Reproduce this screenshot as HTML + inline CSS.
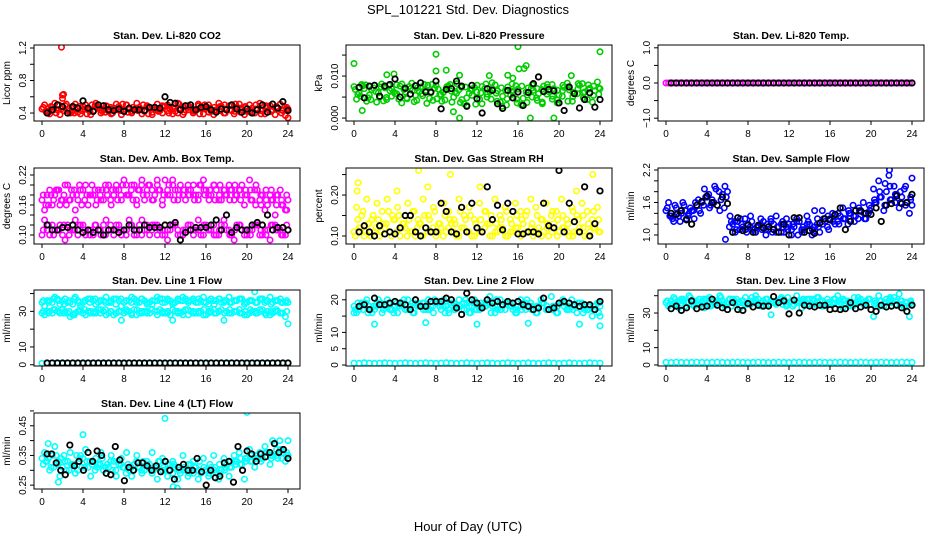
<!DOCTYPE html>
<html><head><meta charset="utf-8"><style>
body{margin:0;background:#fff}
svg{display:block;font-family:"Liberation Sans",sans-serif}
</style></head><body>
<svg id="c" width="936" height="540" viewBox="0 0 936 540">
<text x="468" y="14" text-anchor="middle" font-size="13">SPL_101221  Std. Dev. Diagnostics</text>
<text x="468" y="531" text-anchor="middle" font-size="13">Hour of Day (UTC)</text>
</svg>
<script>
// ---- data ----
const xTicks=[0,4,8,12,16,20,24];
// CO2
const co2A=[0.45,0.42,0.47,0.44,0.62,0.43,0.46,0.41,0.48,0.44,0.43,0.47,0.45,0.42,0.46,0.48,0.43,0.45,0.44,0.47,0.42,0.46,0.44,0.43,0.48,0.45,0.42,0.46,0.44,0.47,0.43,0.45,0.46,0.42,0.44,0.48,0.45,0.43,0.47,0.44,0.42,0.46,0.45,0.43,0.47,0.44,0.46,0.43,0.45];
const co2B=[0.50,0.39,0.52,0.38,0.49,0.40,0.51,0.39,0.50,0.38,0.52,0.40,0.49,0.39,0.51,0.38,0.50,0.40,0.52,0.39,0.49,0.38,0.51,0.40,0.50,0.39,0.52,0.38,0.49,0.40,0.51,0.39,0.50,0.38,0.52,0.40,0.49,0.39,0.51,0.38,0.50,0.40,0.52,0.39,0.49,0.38,0.51,0.37];
const co2C=[0.47,0.41,0.44,0.50,0.43,0.46,0.40,0.48,0.45,0.42,0.49,0.44,0.41,0.47,0.45,0.43,0.50,0.42,0.46,0.44,0.48,0.41,0.45,0.49,0.43,0.46,0.40,0.47,0.44,0.42,0.49,0.45,0.41,0.47,0.43,0.50,0.44,0.42,0.46,0.48,0.41,0.45,0.43,0.49,0.42,0.46,0.44,0.47];
const co2D=[0.42,0.48,0.40,0.45,0.51,0.41,0.47,0.43,0.39,0.50,0.46,0.42,0.48,0.40,0.44,0.51,0.41,0.47,0.43,0.50,0.39,0.46,0.42,0.48,0.40,0.45,0.51,0.41,0.47,0.43,0.39,0.50,0.46,0.42,0.48,0.40,0.44,0.51,0.41,0.47,0.43,0.50,0.39,0.46,0.42,0.48,0.40,0.45];
const co2OutT=[1.9,2.1,24,2.0];
const co2OutV=[1.21,0.63,0.34,0.58];
const co2K=[0.40,0.44,0.50,0.48,0.40,0.48,0.46,0.55,0.46,0.42,0.50,0.49,0.44,0.43,0.45,0.42,0.46,0.44,0.44,0.43,0.47,0.47,0.46,0.60,0.53,0.52,0.44,0.49,0.50,0.44,0.47,0.48,0.44,0.41,0.45,0.44,0.50,0.45,0.41,0.45,0.40,0.44,0.50,0.41,0.51,0.46,0.54,0.43];
// Pressure
const prA=[0.0075,0.0060,0.0070,0.0055,0.0078,0.0050,0.0072,0.0065,0.0058,0.0076,0.0062,0.0070,0.0054,0.0074,0.0066,0.0060,0.0078,0.0056,0.0071,0.0064,0.0059,0.0073,0.0048,0.0068,0.0062,0.0075,0.0057,0.0070,0.0065,0.0052,0.0074,0.0061,0.0069,0.0047,0.0072,0.0066,0.0058,0.0076,0.0063,0.0070,0.0055,0.0073,0.0067,0.0060,0.0078,0.0062,0.0071,0.0065,0.0070];
const prB=[0.0045,0.0080,0.0040,0.0068,0.0038,0.0081,0.0044,0.0052,0.0079,0.0036,0.0048,0.0083,0.0042,0.0058,0.0035,0.0080,0.0046,0.0040,0.0075,0.0038,0.0082,0.0044,0.0030,0.0054,0.0078,0.0034,0.0050,0.0084,0.0040,0.0028,0.0046,0.0081,0.0036,0.0030,0.0055,0.0079,0.0042,0.0038,0.0080,0.0045,0.0036,0.0052,0.0083,0.0040,0.0058,0.0082,0.0044,0.0038,0.0086];
const prC=[0.0068,0.0052,0.0079,0.0044,0.0063,0.0074,0.0049,0.0070,0.0058,0.0081,0.0046,0.0066,0.0072,0.0053,0.0078,0.0042,0.0069,0.0061,0.0076,0.0050,0.0067,0.0034,0.0059,0.0073,0.0045,0.0070,0.0063,0.0079,0.0038,0.0066,0.0055,0.0077,0.0032,0.0062,0.0071,0.0048,0.0068,0.0057,0.0080,0.0043,0.0065,0.0074,0.0051,0.0070,0.0060,0.0079,0.0054,0.0072];
const prD=[0.0056,0.0077,0.0048,0.0072,0.0060,0.0041,0.0078,0.0062,0.0045,0.0068,0.0075,0.0039,0.0064,0.0080,0.0047,0.0071,0.0056,0.0043,0.0080,0.0063,0.0037,0.0074,0.0069,0.0033,0.0060,0.0081,0.0045,0.0059,0.0072,0.0031,0.0064,0.0045,0.0076,0.0037,0.0050,0.0070,0.0034,0.0073,0.0052,0.0066,0.0078,0.0040,0.0061,0.0082,0.0048,0.0069,0.0076,0.0057];
const prOutT=[0,0.8,3.2,3.9,8,8,9,9.7,10.3,10.3,13.2,15,15.5,16,16.1,16.6,16.8,17.2,19.5,21.2,24];
const prOutV=[0.013,0.0018,0.0103,0.0105,0.0152,0.0112,0.0114,0.0015,0.0102,0,0.0101,0.0102,0.0095,0.0170,0.0117,0.0118,0.0125,0,0,0.0101,0.0158];
const prK=[0.0073,0.0048,0.0076,0.0078,0.0052,0.0076,0.0080,0.0093,0.0050,0.0071,0.0057,0.0077,0.0084,0.0062,0.0062,0.0088,0.0022,0.0068,0.0070,0.0088,0.0076,0.0028,0.0078,0.0046,0.0012,0.0070,0.0066,0.0034,0.0023,0.0066,0.0048,0.0062,0.0030,0.0061,0.0082,0.0098,0.0063,0.0068,0.0065,0.0036,0.0018,0.0074,0.0058,0.0024,0.0044,0.0060,0.0026,0.0044];
// Li-820 temp
const tpA=[0,0,0,0,0,0,0,0,0,0,0,0,0,0,0,0,0,0,0,0,0,0,0,0,0,0,0,0,0,0,0,0,0,0,0,0,0,0,0,0,0,0,0,0,0,0,0,0,0];
const tpB=[0,0,0,0,0,0,0,0,0,0,0,0,0,0,0,0,0,0,0,0,0,0,0,0,0,0,0,0,0,0,0,0,0,0,0,0,0,0,0,0,0,0,0,0,0,0,0,0];
const tpK=[0,0,0,0,0,0,0,0,0,0,0,0,0,0,0,0,0,0,0,0,0,0,0,0,0,0,0,0,0,0,0,0,0,0,0,0,0,0,0,0,0,0,0,0,0,0,0,0];
// Amb box temp
const abUA=[0.17,0.18,0.16,0.19,0.17,0.20,0.18,0.17,0.19,0.16,0.18,0.19,0.17,0.20,0.18,0.19,0.21,0.18,0.20,0.19,0.17,0.20,0.18,0.19,0.21,0.18,0.19,0.20,0.17,0.19,0.18,0.20,0.19,0.18,0.19,0.17,0.18,0.19,0.18,0.20,0.18,0.17,0.19,0.18,0.16,0.17,0.18,0.16,0.17];
const abUB=[0.15,0.19,0.18,0.16,0.20,0.17,0.15,0.19,0.20,0.18,0.16,0.17,0.19,0.16,0.20,0.17,0.18,0.20,0.16,0.21,0.19,0.17,0.20,0.16,0.19,0.21,0.17,0.18,0.20,0.18,0.17,0.21,0.18,0.20,0.17,0.19,0.20,0.17,0.19,0.16,0.21,0.19,0.17,0.15,0.18,0.14,0.19,0.15];
const abUC=[0.18,0.16,0.17,0.19,0.18,0.17,0.19,0.20,0.17,0.18,0.19,0.18,0.20,0.17,0.19,0.18,0.20,0.19,0.17,0.20,0.18,0.19,0.21,0.17,0.18,0.20,0.19,0.18,0.19,0.20,0.18,0.19,0.17,0.20,0.18,0.19,0.17,0.20,0.19,0.18,0.19,0.16,0.18,0.19,0.17,0.18,0.16,0.18];
const abUD=[0.16,0.18,0.19,0.17,0.16,0.19,0.18,0.16,0.18,0.20,0.17,0.19,0.18,0.19,0.17,0.20,0.18,0.17,0.19,0.18,0.20,0.17,0.19,0.18,0.20,0.17,0.18,0.19,0.18,0.17,0.20,0.18,0.19,0.17,0.20,0.18,0.19,0.18,0.17,0.19,0.17,0.20,0.16,0.17,0.19,0.16,0.17,0.15];
const abLA=[0.10,0.11,0.12,0.11,0.10,0.12,0.11,0.10,0.12,0.11,0.10,0.11,0.12,0.11,0.10,0.12,0.11,0.13,0.10,0.12,0.11,0.10,0.12,0.11,0.10,0.11,0.12,0.10,0.11,0.12,0.11,0.10,0.12,0.11,0.10,0.12,0.11,0.10,0.12,0.11,0.10,0.11,0.12,0.10,0.11,0.12,0.11,0.10,0.11];
const abLB=[0.13,0.10,0.11,0.12,0.09,0.11,0.13,0.12,0.10,0.11,0.12,0.10,0.13,0.11,0.12,0.10,0.11,0.12,0.10,0.13,0.11,0.12,0.10,0.11,0.09,0.12,0.11,0.10,0.12,0.11,0.13,0.10,0.11,0.12,0.10,0.13,0.11,0.09,0.12,0.10,0.11,0.12,0.10,0.11,0.09,0.12,0.11,0.10];
const abLC=[0.11,0.12,0.10,0.11,0.12,0.10,0.11,0.12,0.11,0.10,0.12,0.11,0.10,0.12,0.11,0.11,0.10,0.12,0.11,0.10,0.12,0.11,0.12,0.10,0.11,0.12,0.10,0.11,0.12,0.10,0.11,0.12,0.11,0.10,0.11,0.12,0.10,0.11,0.12,0.11,0.10,0.12,0.11,0.10,0.12,0.11,0.10,0.12];
const abK=[0.12,0.11,0.11,0.115,0.115,0.12,0.11,0.105,0.11,0.105,0.11,0.10,0.11,0.11,0.105,0.11,0.12,0.11,0.11,0.12,0.115,0.115,0.115,0.12,0.12,0.125,0.09,0.105,0.11,0.115,0.115,0.115,0.12,0.13,0.11,0.14,0.105,0.115,0.11,0.11,0.12,0.125,0.12,0.14,0.11,0.115,0.115,0.11];
// RH
const rhA=[0.11,0.12,0.10,0.13,0.11,0.10,0.12,0.11,0.14,0.10,0.12,0.11,0.10,0.13,0.12,0.11,0.10,0.12,0.11,0.13,0.10,0.12,0.11,0.10,0.12,0.11,0.13,0.10,0.11,0.12,0.10,0.11,0.12,0.13,0.11,0.10,0.12,0.11,0.10,0.13,0.11,0.12,0.10,0.11,0.12,0.10,0.11,0.12,0.11];
const rhB=[0.17,0.15,0.19,0.14,0.18,0.16,0.19,0.15,0.17,0.13,0.18,0.16,0.14,0.19,0.15,0.17,0.13,0.18,0.16,0.14,0.19,0.15,0.17,0.14,0.18,0.16,0.13,0.19,0.15,0.17,0.14,0.18,0.16,0.15,0.19,0.17,0.14,0.18,0.15,0.16,0.19,0.14,0.17,0.15,0.18,0.16,0.14,0.17];
const rhC=[0.10,0.12,0.11,0.10,0.12,0.11,0.13,0.10,0.11,0.12,0.10,0.11,0.12,0.10,0.11,0.12,0.11,0.10,0.12,0.11,0.10,0.12,0.11,0.10,0.11,0.12,0.10,0.11,0.12,0.10,0.11,0.12,0.10,0.11,0.12,0.11,0.10,0.12,0.11,0.10,0.12,0.11,0.10,0.11,0.12,0.10,0.12,0.11];
const rhD=[0.14,0.16,0.13,0.15,0.14,0.13,0.16,0.14,0.15,0.13,0.14,0.16,0.13,0.15,0.14,0.16,0.13,0.15,0.14,0.13,0.16,0.14,0.15,0.13,0.14,0.16,0.15,0.13,0.14,0.16,0.13,0.15,0.14,0.16,0.13,0.15,0.14,0.13,0.16,0.14,0.15,0.13,0.16,0.14,0.15,0.13,0.16,0.14];
const rhOutT=[0.4,0.3,6.3,9.4,7.2,12.3,23.3,21.7,1.5,4.2];
const rhOutV=[0.23,0.21,0.26,0.25,0.22,0.22,0.25,0.21,0.11,0.21];
const rhK=[0.11,0.125,0.11,0.10,0.125,0.105,0.11,0.105,0.12,0.15,0.15,0.11,0.10,0.12,0.11,0.11,0.18,0.16,0.11,0.105,0.17,0.11,0.18,0.12,0.11,0.22,0.14,0.175,0.115,0.18,0.16,0.105,0.105,0.11,0.11,0.105,0.18,0.125,0.12,0.26,0.11,0.18,0.135,0.11,0.22,0.10,0.13,0.21];
// Sample flow
const sfA=[1.45,1.35,1.50,1.40,1.30,1.45,1.55,1.60,1.70,1.65,1.55,1.75,1.80,1.20,1.25,1.15,1.20,1.10,1.15,1.25,1.10,1.20,1.15,1.05,1.20,1.15,1.25,1.10,1.20,1.15,1.05,1.25,1.30,1.20,1.35,1.30,1.40,1.35,1.45,1.30,1.50,1.60,1.70,1.80,1.65,1.75,1.70,1.60,1.55];
const sfB=[1.60,1.25,1.35,1.55,1.40,1.30,1.45,1.85,1.50,1.90,1.45,1.90,1.35,1.05,1.30,1.10,1.35,1.05,1.30,1.00,1.25,1.35,1.05,1.30,1.00,1.30,1.10,1.35,1.00,1.20,1.45,1.15,1.40,1.25,1.50,1.20,1.55,1.30,1.60,1.40,1.85,2.00,1.45,2.10,1.90,1.50,1.85,1.40];
const sfC=[1.50,1.30,1.40,1.60,1.35,1.45,1.65,1.55,1.75,1.60,1.80,1.50,1.15,1.25,1.10,1.30,1.15,1.05,1.20,1.10,1.30,1.05,1.20,1.15,1.10,1.25,1.05,1.20,1.10,1.30,1.20,1.35,1.25,1.40,1.30,1.45,1.35,1.50,1.40,1.55,1.65,1.80,1.55,1.90,1.60,1.80,1.55,1.70];
const sfD=[1.35,1.55,1.25,1.45,1.50,1.60,1.40,1.70,1.55,1.85,1.65,1.70,1.25,1.10,1.20,1.05,1.25,1.15,1.10,1.20,1.05,1.15,1.25,1.10,1.20,1.00,1.15,1.25,1.05,1.15,1.30,1.10,1.35,1.20,1.30,1.40,1.25,1.45,1.30,1.45,1.60,1.70,1.95,1.65,1.75,1.60,1.90,1.65];
const sfOutT=[5.8,21.8,24,14.5];
const sfOutV=[0.92,2.2,2.05,1.45];
const sfK=[1.40,1.38,1.45,1.28,1.20,1.55,1.62,1.72,1.60,1.55,1.70,1.58,1.05,1.32,1.08,1.18,1.05,1.18,1.13,1.15,1.10,1.05,1.20,1.00,1.32,1.32,1.05,1.08,1.03,1.22,1.30,1.28,1.38,1.50,1.10,1.25,1.45,1.44,1.40,1.38,1.50,1.25,1.55,1.58,1.72,1.58,1.60,1.75];
// Line 1
const l1UA=[35,36,35,37,36,35,34,36,35,37,36,35,36,35,37,36,35,36,37,35,36,35,36,37,35,36,35,36,37,36,35,36,35,37,36,35,36,35,36,37,35,36,35,37,36,35,36,35,35];
const l1UB=[33,36,38,34,37,35,38,33,36,37,34,36,38,35,37,33,36,38,35,37,34,36,38,35,37,34,36,38,36,37,35,38,34,36,37,35,38,36,37,34,36,41,37,35,38,36,37,35];
const l1UC=[36,35,37,36,34,36,37,35,36,35,37,36,35,36,34,37,36,35,36,37,35,34,36,37,36,35,37,36,35,36,37,35,36,34,37,36,35,36,37,35,36,35,37,36,34,36,35,36];
const l1LA=[29,30,29,30,31,29,28,30,29,30,29,31,30,29,28,30,29,30,31,29,30,29,30,31,29,28,30,29,31,30,29,30,28,30,29,31,30,29,30,29,28,30,29,31,30,29,30,29,23];
const l1LB=[28,30,31,29,30,27,29,31,28,30,29,31,28,30,29,25,30,28,31,29,30,31,28,30,29,25,30,28,31,29,30,28,29,31,30,25,29,30,31,28,29,30,31,29,28,30,29,27];
const l1LC=[30,29,31,30,29,30,28,30,31,29,30,29,31,30,29,30,31,29,28,30,29,31,30,29,30,31,29,30,28,30,29,31,30,29,30,29,31,30,29,30,31,29,30,28,30,31,29,30];
const l1Z=[0.8,0.7,0.9,0.8,0.7,0.8,0.9,0.8,0.7,0.8,0.9,0.8,0.7,0.8,0.9,0.8,0.7,0.8,0.9,0.8,0.7,0.8,0.9,0.8,0.7,0.8,0.9,0.8,0.7,0.8,0.9,0.8,0.7,0.8,0.9,0.8,0.7,0.8,0.9,0.8,0.7,0.8,0.9,0.8,0.7,0.8,0.9,0.8,0.8];
const l1K=[1,1,1,1,1,1,1,1,1,1,1,1,1,1,1,1,1,1,1,1,1,1,1,1,1,1,1,1,1,1,1,1,1,1,1,1,1,1,1,1,1,1,1,1,1,1,1,1];
// Line 2
const l2A=[18,17,19,18,17,19,18,17,18,19,17,18,19,18,17,18,19,17,18,19,18,17,19,18,17,18,19,18,17,18,19,17,18,19,18,17,18,19,17,18,19,18,17,18,19,17,18,17,18];
const l2B=[16,19,20,16,19,16,20,17,16,19,20,16,19,17,20,16,19,20,16,17,20,19,16,20,17,19,21,16,20,17,19,16,20,17,19,16,20,17,21,16,19,17,20,16,19,17,15,19];
const l2C=[17,18,19,17,18,19,18,17,19,18,17,19,18,19,17,18,19,18,17,19,18,17,18,19,17,18,19,18,17,19,18,17,18,19,17,18,19,18,17,18,19,17,18,19,18,17,18,19];
const l2D=[19,17,16,18,20,17,19,16,18,20,17,16,18,19,17,20,18,16,19,17,18,20,16,17,19,18,16,20,17,19,18,16,17,20,18,16,19,17,18,16,20,18,17,19,16,18,17,16];
const l2OutT=[2,7,12,17,22,24,0,24];
const l2OutV=[12.5,13,12.5,12.8,12.5,12,16,15];
const l2Z=[0.6,0.5,0.7,0.6,0.5,0.6,0.7,0.6,0.5,0.6,0.7,0.6,0.5,0.6,0.7,0.6,0.5,0.6,0.7,0.6,0.5,0.6,0.7,0.6,0.5,0.6,0.7,0.6,0.5,0.6,0.7,0.6,0.5,0.6,0.7,0.6,0.5,0.6,0.7,0.6,0.5,0.6,0.7,0.6,0.5,0.6,0.7,0.6,0.6];
const l2K=[18,18.5,17,20.5,18.5,18.5,19,19.5,19,18.5,17,20,18,18,19.5,19.5,19.5,20.5,20,17.5,15.5,22,20,19,17.5,20,19,19.5,18.5,19.5,19,19.5,18.5,18,17,17.5,20.5,17,17.5,19,19.5,19,18.5,18,18.5,18.5,17,19.5];
// Line 3
const l3A=[36,37,35,38,36,35,37,36,38,35,36,37,35,38,36,37,35,36,38,37,35,36,37,38,36,35,37,36,38,35,37,36,35,38,36,37,35,36,38,37,35,36,37,38,36,35,37,36,35];
const l3B=[34,39,33,37,40,34,38,33,39,35,40,34,38,36,33,39,35,40,34,38,29,35,39,34,37,40,33,38,35,39,34,38,36,40,33,37,34,39,35,38,28,40,34,37,39,41,33,28];
const l3C=[37,35,36,38,36,37,35,38,36,37,36,35,38,37,36,35,37,38,36,35,37,36,38,35,37,36,37,35,38,36,37,36,35,37,38,36,35,37,36,38,35,37,36,38,37,35,36,37];
const l3D=[35,38,37,34,39,36,35,38,34,37,39,36,34,38,37,35,39,36,34,38,36,37,35,39,34,36,38,35,37,39,34,36,38,35,37,34,39,36,35,38,37,34,36,39,35,37,34,36];
const l3Z=[1.5,1.4,1.6,1.5,1.4,1.5,1.6,1.5,1.4,1.5,1.6,1.5,1.4,1.5,1.6,1.5,1.4,1.5,1.6,1.5,1.4,1.5,1.6,1.5,1.4,1.5,1.6,1.5,1.4,1.5,1.6,1.5,1.4,1.5,1.6,1.5,1.4,1.5,1.6,1.5,1.4,1.5,1.6,1.5,1.4,1.5,1.6,1.5,1.5];
const l3K=[32.5,34,31.5,33,37,32.5,33.5,34,38,34.5,33,32,36,32,31.5,35.5,33.5,34.5,34,34,39.5,36,37,29.5,37.5,30,34.5,34,33.5,34.5,34.5,32,32.5,32,32.5,36,32.5,33.5,34.5,32,31,34.5,33.5,34,34.5,33,31,34.5];
// Line 4 (LT)
const l4A=[0.34,0.33,0.35,0.32,0.31,0.33,0.32,0.30,0.34,0.31,0.33,0.32,0.30,0.31,0.33,0.32,0.31,0.30,0.32,0.31,0.30,0.32,0.31,0.33,0.30,0.32,0.31,0.29,0.30,0.32,0.31,0.29,0.30,0.31,0.29,0.30,0.32,0.31,0.33,0.32,0.34,0.33,0.35,0.34,0.36,0.35,0.34,0.36,0.35];
const l4B=[0.36,0.30,0.38,0.28,0.33,0.36,0.29,0.35,0.37,0.28,0.34,0.36,0.29,0.35,0.28,0.34,0.36,0.28,0.35,0.29,0.33,0.36,0.27,0.34,0.28,0.33,0.27,0.35,0.28,0.33,0.27,0.34,0.28,0.35,0.27,0.34,0.28,0.35,0.36,0.27,0.37,0.31,0.36,0.38,0.32,0.39,0.37,0.33];
const l4C=[0.32,0.34,0.31,0.33,0.35,0.30,0.32,0.34,0.31,0.33,0.30,0.32,0.31,0.33,0.30,0.32,0.29,0.31,0.33,0.30,0.32,0.29,0.31,0.30,0.32,0.29,0.31,0.30,0.32,0.29,0.30,0.31,0.29,0.30,0.32,0.30,0.31,0.33,0.32,0.34,0.33,0.35,0.34,0.36,0.34,0.35,0.37,0.35];
const l4D=[0.33,0.31,0.35,0.34,0.30,0.32,0.35,0.31,0.33,0.32,0.31,0.34,0.32,0.30,0.33,0.31,0.32,0.30,0.31,0.33,0.31,0.30,0.33,0.31,0.30,0.32,0.30,0.31,0.29,0.31,0.33,0.30,0.32,0.31,0.29,0.31,0.33,0.32,0.34,0.33,0.35,0.34,0.33,0.36,0.35,0.37,0.34,0.36];
const l4OutT=[12,20,4,22.5,23.2,24,1.6,13.2,12.8,0.6];
const l4OutV=[0.475,0.495,0.42,0.40,0.40,0.40,0.26,0.24,0.245,0.39];
const l4K=[0.355,0.355,0.325,0.30,0.285,0.385,0.315,0.33,0.30,0.36,0.33,0.365,0.35,0.29,0.285,0.38,0.335,0.265,0.31,0.30,0.325,0.325,0.315,0.30,0.315,0.295,0.33,0.30,0.27,0.31,0.32,0.30,0.30,0.34,0.295,0.25,0.30,0.275,0.28,0.325,0.33,0.26,0.38,0.30,0.365,0.355,0.33,0.355,0.345,0.36,0.39,0.36,0.37,0.34];
// ticks
const co2Ticks=[0.4,0.6,0.8,1.0,1.2], co2Labels=["0.4","","0.8","","1.2"];
const prTicks=[0,0.005,0.010,0.015], prLabels=["0.000","","0.010",""];
const tpTicks=[-1,-0.5,0,0.5,1], tpLabels=["\u22121.0","","0.0","","1.0"];
const abTicks=[0.10,0.12,0.14,0.16,0.18,0.20,0.22], abLabels=["0.10","","","0.16","","","0.22"];
const rhTicks=[0.10,0.15,0.20,0.25], rhLabels=["0.10","","0.20",""];
const sfTicks=[1.0,1.2,1.4,1.6,1.8,2.0,2.2], sfLabels=["1.0","","","1.6","","","2.2"];
const l1Ticks=[0,10,20,30,40], l1Labels=["0","10","","30",""];
const l2Ticks=[0,5,10,15,20], l2Labels=["0","5","10","","20"];
const l3Ticks=[0,10,20,30,40], l3Labels=["0","10","","30",""];
const l4Ticks=[0.25,0.30,0.35,0.40,0.45,0.50], l4Labels=["0.25","","0.35","","0.45",""];

// ---- drawing ----
const NS="http://www.w3.org/2000/svg";
const svg=document.getElementById('c');
const W=266,H=76;
function mk(tag,attrs,parent){const e=document.createElementNS(NS,tag);for(const k in attrs)e.setAttribute(k,attrs[k]);parent.appendChild(e);return e;}
function seq(n,t0,t1){const r=[];for(let i=0;i<n;i++)r.push(n===1?t0:t0+i*(t1-t0)/(n-1));return r;}
function panel(o){
  const g=mk('g',{},svg);
  
  
  const L=o.x,T=o.y;
  const sx=t=>L+8+t*(246/24);
  const sy=v=>T+H-(v-o.ylo)/(o.yhi-o.ylo)*H;
  const clip='cl'+o.name;
  const cp=mk('clipPath',{id:clip},g);mk('rect',{x:L,y:T,width:W,height:H},cp);
  const pts=mk('g',{'clip-path':'url(#'+clip+')'},g);
  
  
  o.series.forEach(s=>{
    const ts=s.t||seq(s.v.length,s.t0,s.t1);
    const black=s.c==='#000';
    s.v.forEach((v,i)=>{
      const c=mk('circle',{cx:sx(ts[i]),cy:sy(v),r:2.7,fill:'none',stroke:s.c,'stroke-width':black?1.8:1.6},pts);
      
      
    });
  });
  const box=mk('rect',{x:L,y:T,width:W,height:H,fill:'none',stroke:'#000','stroke-width':1},g);
  
  
  const xa=mk('g',{},g);
  
  
  xTicks.forEach(t=>{
    mk('line',{x1:sx(t),x2:sx(t),y1:T+H,y2:T+H+4,stroke:'#000'},xa);
    const tx=mk('text',{x:sx(t),y:T+H+16,'text-anchor':'middle','font-size':10},xa);tx.textContent=t;
  });
  const ya=mk('g',{},g);
  
  
  o.ticks.forEach((v,i)=>{
    mk('line',{x1:L-4,x2:L,y1:sy(v),y2:sy(v),stroke:'#000'},ya);
    if(o.labels[i]){const tx=mk('text',{x:0,y:0,'text-anchor':'middle','font-size':10,transform:`translate(${L-8},${sy(v)}) rotate(-90)`},ya);tx.textContent=o.labels[i];}
  });
  const yt=mk('text',{x:0,y:0,'text-anchor':'middle','font-size':10,transform:`translate(${L-24},${T+H/2}) rotate(-90)`},g);
  
  
  yt.textContent=o.ylab;
  const tt=mk('text',{x:L+W/2,y:T-6,'text-anchor':'middle','font-size':10.5,'font-weight':'bold'},g);
  
  
  tt.textContent=o.title;
}
const RED='#ff0000',GRN='#00cd00',MAG='#ff00ff',YEL='#ffff00',BLU='#0000ff',CY='#00ffff',K='#000';
const C=[34,346,658],R=[45,168,290,413];
panel({name:'co2-panel',x:C[0],y:R[0],ylo:0.302,yhi:1.237,ticks:co2Ticks,labels:co2Labels,ylab:'Licor ppm',title:'Stan. Dev. Li-820 CO2',series:[
 {n:'co2-point',c:RED,v:co2A,t0:0,t1:24},{n:'co2-point',c:RED,v:co2B,t0:0.25,t1:23.75},{n:'co2-point',c:RED,v:co2C,t0:0.125,t1:23.875},{n:'co2-point',c:RED,v:co2D,t0:0.375,t1:23.875},{n:'co2-outlier',c:RED,v:co2OutV,t:co2OutT},{n:'co2-ref-point',c:K,v:co2K,t0:0.5,t1:24}]});
panel({name:'pressure-panel',x:C[1],y:R[0],ylo:-0.0007,yhi:0.0174,ticks:prTicks,labels:prLabels,ylab:'kPa',title:'Stan. Dev. Li-820 Pressure',series:[
 {n:'pressure-point',c:GRN,v:prA,t0:0,t1:24},{n:'pressure-point',c:GRN,v:prB,t0:0.25,t1:23.75},{n:'pressure-point',c:GRN,v:prC,t0:0.125,t1:23.875},{n:'pressure-point',c:GRN,v:prD,t0:0.375,t1:23.875},{n:'pressure-outlier',c:GRN,v:prOutV,t:prOutT},{n:'pressure-ref-point',c:K,v:prK,t0:0.5,t1:24}]});
panel({name:'temp-panel',x:C[2],y:R[0],ylo:-1.08,yhi:1.08,ticks:tpTicks,labels:tpLabels,ylab:'degrees C',title:'Stan. Dev. Li-820 Temp.',series:[
 {n:'temp-point',c:MAG,v:tpA,t0:0,t1:24},{n:'temp-point',c:MAG,v:tpB,t0:0.25,t1:23.75},{n:'temp-ref-point',c:K,v:tpK,t0:0.5,t1:24}]});
panel({name:'ambbox-panel',x:C[0],y:R[1],ylo:0.082,yhi:0.234,ticks:abTicks,labels:abLabels,ylab:'degrees C',title:'Stan. Dev. Amb. Box Temp.',series:[
 {n:'ambbox-point',c:MAG,v:abUA,t0:0,t1:24},{n:'ambbox-point',c:MAG,v:abUB,t0:0.25,t1:23.75},{n:'ambbox-point',c:MAG,v:abUC,t0:0.125,t1:23.875},{n:'ambbox-point',c:MAG,v:abUD,t0:0.375,t1:23.875},{n:'ambbox-point',c:MAG,v:abLA,t0:0,t1:24},{n:'ambbox-point',c:MAG,v:abLB,t0:0.25,t1:23.75},{n:'ambbox-point',c:MAG,v:abLC,t0:0.125,t1:23.875},{n:'ambbox-ref-point',c:K,v:abK,t0:0.5,t1:24}]});
panel({name:'rh-panel',x:C[1],y:R[1],ylo:0.0805,yhi:0.266,ticks:rhTicks,labels:rhLabels,ylab:'percent',title:'Stan. Dev. Gas Stream RH',series:[
 {n:'rh-point',c:YEL,v:rhA,t0:0,t1:24},{n:'rh-point',c:YEL,v:rhB,t0:0.25,t1:23.75},{n:'rh-point',c:YEL,v:rhC,t0:0.125,t1:23.875},{n:'rh-point',c:YEL,v:rhD,t0:0.375,t1:23.875},{n:'rh-outlier',c:YEL,v:rhOutV,t:rhOutT},{n:'rh-ref-point',c:K,v:rhK,t0:0.5,t1:24}]});
panel({name:'sampleflow-panel',x:C[2],y:R[1],ylo:0.834,yhi:2.237,ticks:sfTicks,labels:sfLabels,ylab:'ml/min',title:'Stan. Dev. Sample Flow',series:[
 {n:'sampleflow-point',c:BLU,v:sfA,t0:0,t1:24},{n:'sampleflow-point',c:BLU,v:sfB,t0:0.25,t1:23.75},{n:'sampleflow-point',c:BLU,v:sfC,t0:0.125,t1:23.875},{n:'sampleflow-point',c:BLU,v:sfD,t0:0.375,t1:23.875},{n:'sampleflow-outlier',c:BLU,v:sfOutV,t:sfOutT},{n:'sampleflow-ref-point',c:K,v:sfK,t0:0.5,t1:24}]});
panel({name:'line1-panel',x:C[0],y:R[2],ylo:-0.7,yhi:42,ticks:l1Ticks,labels:l1Labels,ylab:'ml/min',title:'Stan. Dev. Line 1 Flow',series:[
 {n:'line1-point',c:CY,v:l1UA,t0:0,t1:24},{n:'line1-point',c:CY,v:l1UB,t0:0.25,t1:23.75},{n:'line1-point',c:CY,v:l1UC,t0:0.125,t1:23.875},{n:'line1-point',c:CY,v:l1LA,t0:0,t1:24},{n:'line1-point',c:CY,v:l1LB,t0:0.25,t1:23.75},{n:'line1-point',c:CY,v:l1LC,t0:0.125,t1:23.875},{n:'line1-zero-point',c:CY,v:l1Z,t0:0,t1:24},{n:'line1-ref-point',c:K,v:l1K,t0:0.5,t1:24}]});
panel({name:'line2-panel',x:C[1],y:R[2],ylo:-0.3,yhi:23,ticks:l2Ticks,labels:l2Labels,ylab:'ml/min',title:'Stan. Dev. Line 2 Flow',series:[
 {n:'line2-point',c:CY,v:l2A,t0:0,t1:24},{n:'line2-point',c:CY,v:l2B,t0:0.25,t1:23.75},{n:'line2-point',c:CY,v:l2C,t0:0.125,t1:23.875},{n:'line2-point',c:CY,v:l2D,t0:0.375,t1:23.875},{n:'line2-outlier',c:CY,v:l2OutV,t:l2OutT},{n:'line2-zero-point',c:CY,v:l2Z,t0:0,t1:24},{n:'line2-ref-point',c:K,v:l2K,t0:0.5,t1:24}]});
panel({name:'line3-panel',x:C[2],y:R[2],ylo:-0.6,yhi:43.3,ticks:l3Ticks,labels:l3Labels,ylab:'ml/min',title:'Stan. Dev. Line 3 Flow',series:[
 {n:'line3-point',c:CY,v:l3A,t0:0,t1:24},{n:'line3-point',c:CY,v:l3B,t0:0.25,t1:23.75},{n:'line3-point',c:CY,v:l3C,t0:0.125,t1:23.875},{n:'line3-point',c:CY,v:l3D,t0:0.375,t1:23.875},{n:'line3-zero-point',c:CY,v:l3Z,t0:0,t1:24},{n:'line3-ref-point',c:K,v:l3K,t0:0.5,t1:24}]});
panel({name:'line4-panel',x:C[0],y:R[3],ylo:0.237,yhi:0.493,ticks:l4Ticks,labels:l4Labels,ylab:'ml/min',title:'Stan. Dev. Line 4 (LT) Flow',series:[
 {n:'line4-point',c:CY,v:l4A,t0:0,t1:24},{n:'line4-point',c:CY,v:l4B,t0:0.25,t1:23.75},{n:'line4-point',c:CY,v:l4C,t0:0.125,t1:23.875},{n:'line4-point',c:CY,v:l4D,t0:0.375,t1:23.875},{n:'line4-outlier',c:CY,v:l4OutV,t:l4OutT},{n:'line4-ref-point',c:K,v:l4K,t0:0.5,t1:24}]});
</script>
</body></html>
